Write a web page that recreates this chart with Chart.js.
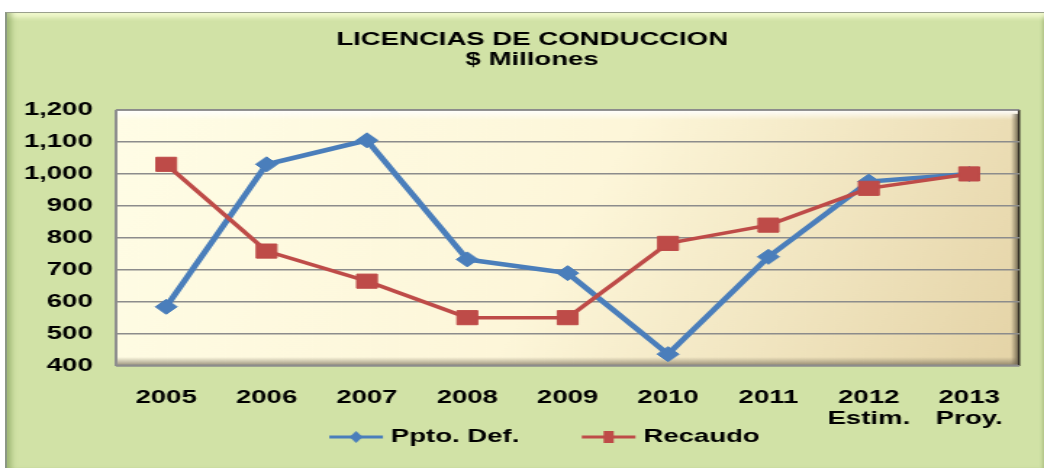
<!DOCTYPE html>
<html>
<head>
<meta charset="utf-8">
<title>Licencias de conduccion</title>
<script src="https://cdn.jsdelivr.net/npm/chart.js@4.4.1/dist/chart.umd.min.js"></script>
<style>
  html, body { margin: 0; padding: 0; background: #fff; overflow: hidden; }
  body { width: 1044px; height: 468px; position: relative; }
  #frame {
    position: absolute; left: 5px; top: 12px; right: 0; bottom: 0;
    background: #d1e2a6;
    border-top: 1px solid #9aa08c;
    border-left: 2px solid #8c9884;
    box-shadow: inset 9px 0 6px -5px rgba(110,140,70,0.55),
                inset 0 9px 5px -5px rgba(250,255,215,0.9),
                inset -4px 0 3px -2px rgba(150,170,110,0.5);
  }
  /* the original picture is stretched sideways, so the chart is drawn narrow and widened */
  #wrap { position: absolute; left: 0; top: 0; width: 734px; height: 468px; transform: scaleX(1.45); transform-origin: 0 0; }
</style>
</head>
<body>
<div id="frame"></div>
<div id="wrap"><canvas id="chart"></canvas></div>
<script>
// data
const years = ['2005', '2006', '2007', '2008', '2009', '2010', '2011', ['2012', 'Estim.'], ['2013', 'Proy.']];
const pptoDef = [585, 1030, 1105, 733, 690, 437, 741, 976, 1000];
const recaudo = [1030, 759, 665, 551, 551, 783, 840, 955, 1000];
const yMin = 400, yMax = 1200, yStep = 100;

const fontFamily = "'Liberation Sans', Arial, sans-serif";
const boldFont = { family: fontFamily, size: 19, weight: 'bold', lineHeight: 1.1 };

// legend swatch: short line with the marker on it
function swatch(color, marker) {
  const c = document.createElement('canvas');
  c.width = 64; c.height = 16;
  const g = c.getContext('2d');
  g.strokeStyle = color; g.fillStyle = color; g.lineWidth = 3;
  g.beginPath(); g.moveTo(24, 8); g.lineTo(61, 8); g.stroke();
  const cx = 42.5;
  if (marker === 'diamond') {
    g.beginPath();
    g.moveTo(cx, 2); g.lineTo(cx + 4.5, 8); g.lineTo(cx, 14); g.lineTo(cx - 4.5, 8);
    g.closePath(); g.fill();
  } else {
    g.fillRect(cx - 3.5, 2, 7, 12);
  }
  return c;
}
const swatches = [swatch('#4a7ebb', 'diamond'), swatch('#be4b48', 'square')];

// cream plot area with bevelled edges
const plotBg = {
  id: 'plotBg',
  beforeDraw(chart) {
    const { ctx, chartArea: a } = chart;
    const w = a.right - a.left, h = a.bottom - a.top;
    ctx.save();
    let g = ctx.createLinearGradient(a.left, a.top, a.right, a.bottom);
    g.addColorStop(0, '#fffde6');
    g.addColorStop(0.5, '#fdf6d9');
    g.addColorStop(1, '#e4d3a6');
    ctx.fillStyle = g;
    ctx.fillRect(a.left, a.top, w, h);

    g = ctx.createLinearGradient(0, a.top, 0, a.top + 10);
    g.addColorStop(0, 'rgba(255,255,255,1)');
    g.addColorStop(1, 'rgba(255,255,255,0)');
    ctx.fillStyle = g;
    ctx.fillRect(a.left, a.top, w, 10);

    g = ctx.createLinearGradient(a.right - 6, 0, a.right, 0);
    g.addColorStop(0, 'rgba(90,80,60,0)');
    g.addColorStop(1, 'rgba(60,55,40,0.8)');
    ctx.fillStyle = g;
    ctx.fillRect(a.right - 6, a.top + 4, 6, h - 4);

    g = ctx.createLinearGradient(0, a.bottom - 9, 0, a.bottom);
    g.addColorStop(0, 'rgba(120,110,90,0)');
    g.addColorStop(1, 'rgba(110,100,80,0.75)');
    ctx.fillStyle = g;
    ctx.fillRect(a.left, a.bottom - 9, w, 9);

    ctx.fillStyle = '#8e8e8e';
    ctx.fillRect(a.left, a.top, w, 1);
    ctx.fillRect(a.left - 1, a.top, 2, h);
    ctx.fillRect(a.left, a.bottom - 1.5, w, 2);
    ctx.fillStyle = '#2f2a22';
    ctx.fillRect(a.right - 1, a.top, 1.5, h);
    ctx.restore();
  }
};

new Chart(document.getElementById('chart'), {
  type: 'line',
  data: {
    labels: years,
    datasets: [
      {
        label: 'Ppto. Def.',
        data: pptoDef,
        borderColor: '#4a7ebb',
        backgroundColor: '#4a7ebb',
        borderWidth: 4.5,
        pointStyle: 'rectRot',
        pointRadius: 7.5,
        pointHoverRadius: 7.5,
        pointBorderWidth: 1,
        tension: 0,
        order: 1
      },
      {
        label: 'Recaudo',
        data: recaudo,
        borderColor: '#be4b48',
        backgroundColor: '#be4b48',
        borderWidth: 3.5,
        pointStyle: 'rect',
        pointRadius: 10,
        pointHoverRadius: 10,
        pointBorderWidth: 1,
        tension: 0,
        order: 0
      }
    ]
  },
  options: {
    responsive: true,
    maintainAspectRatio: false,
    animation: false,
    layout: { padding: { left: 0, right: 0, top: 0, bottom: 11.5 } },
    plugins: {
      title: {
        display: true,
        text: ['LICENCIAS DE CONDUCCION', '$ Millones'],
        color: '#000',
        font: { family: fontFamily, size: 19, weight: 'bold', lineHeight: 1.05 },
        padding: { top: 30, bottom: 40 }
      },
      legend: {
        position: 'bottom',
        labels: {
          usePointStyle: true,
          pointStyleWidth: 50,
          padding: 26,
          color: '#000',
          font: boldFont,
          generateLabels: chart => chart.data.datasets.map((ds, i) => ({
            text: ds.label,
            pointStyle: swatches[i],
            datasetIndex: i,
            fontColor: '#000',
            fillStyle: 'transparent',
            strokeStyle: 'transparent',
            lineWidth: 0,
            hidden: false
          }))
        }
      },
      tooltip: { enabled: false }
    },
    scales: {
      x: {
        offset: true,
        grid: { display: false },
        border: { display: false },
        // mirror keeps the two-line labels from being clipped to the short axis box
        ticks: { color: '#000', font: boldFont, padding: -42, mirror: true, autoSkip: false, maxRotation: 0 },
        afterFit: s => { s.height = 35.5; }
      },
      y: {
        min: yMin,
        max: yMax,
        grid: { color: '#8c8c8c', lineWidth: 1.5, drawTicks: false },
        border: { display: false },
        ticks: {
          stepSize: yStep,
          padding: 16,
          color: '#000',
          font: boldFont,
          callback: v => v.toLocaleString('en-US')
        },
        afterFit: s => { s.width = 80; }
      },
      // empty right-hand strip so the title and legend sit where they do in the original
      y2: {
        type: 'linear',
        axis: 'y',
        position: 'right',
        grid: { display: false },
        border: { display: false },
        ticks: { display: false },
        afterFit: s => { s.width = 31; }
      }
    }
  },
  plugins: [plotBg]
});
</script>
</body>
</html>
